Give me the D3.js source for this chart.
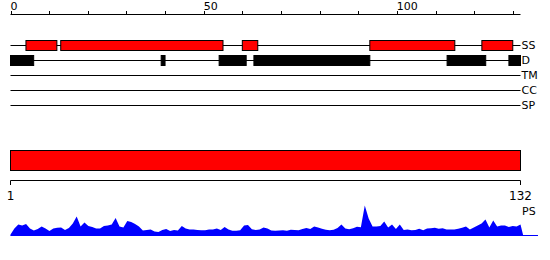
<!DOCTYPE html>
<html>
<head>
<meta charset="utf-8">
<script src="https://cdn.jsdelivr.net/npm/d3@7"></script>
<style>
  body { margin: 0; background: #fff; }
  text { font-family: "DejaVu Sans", sans-serif; fill: #000; }
</style>
</head>
<body>
<svg id="chart" width="550" height="260"></svg>
<script>
// sequence features, 1-based residue ranges
const seqLength = 132;
const ssRanges = [[5,12],[14,55],[61,64],[94,115],[123,130]];
const disorderRanges = [[1,6],[40,40],[55,61],[64,93],[114,123],[130,132]];
const tmRanges = [];
const ccRanges = [];
const spRanges = [];
const trackNames = ["SS","D","TM","CC","SP"];
const topTicks = d3.range(0, 131, 10);
const topLabels = [0, 50, 100];
// per-residue profile (PS)
const psValues = [1,7,11,10,11.5,7,5,6.5,9,7,4.5,7,7.7,8,5.5,7.5,12,19,9,13,
  9.5,8.5,7,7,9.5,10,11,17.5,9,8,14.5,13.5,11.5,9,5,5.5,6,4,3.5,5.5,
  6.5,4.5,5.5,5,9.5,7,6,6,5.5,5.3,5.3,6,6,7,5.5,8.5,6,4.7,4.7,5.3,
  10,10.5,6.3,5.5,6,8,7,5,4.7,5,5.3,4.7,5.7,5.5,5.3,6.5,7.5,6.5,9,8,
  6.7,5.7,5.3,5.7,7.5,11,7,6.3,7.3,8.7,8.3,30,17,9,9,9.5,14,8,11,6.5,
  11,5.5,6,5.3,5.5,6.7,5.3,7,7.3,7.7,6.7,7.3,6,6,6,6.7,7.7,9,6,8,
  10,12,16,8,15,9,10,10,8.5,9.5,9,11];

const svg = d3.select("#chart");
const x0 = 10.5, x1 = 520.5;

// top ruler
const xTop = d3.scaleLinear().domain([0, seqLength]).range([x0, x1]);
const ruler = svg.append("g");
ruler.append("line")
    .attr("x1", xTop(0)).attr("x2", xTop(seqLength))
    .attr("y1", 14.5).attr("y2", 14.5)
    .attr("stroke", "#000");
ruler.selectAll(".tick").data(topTicks).join("line")
    .attr("x1", d => Math.round(xTop(d)) + 0.5).attr("x2", d => Math.round(xTop(d)) + 0.5)
    .attr("y1", 11).attr("y2", 14.5)
    .attr("stroke", "#000");
ruler.selectAll("text").data(topLabels).join("text")
    .attr("x", d => xTop(d)).attr("y", 10)
    .attr("font-size", 11)
    .text(d => d);

// feature tracks
const tracks = [ssRanges, disorderRanges, tmRanges, ccRanges, spRanges];
const trackFill = ["#ff0000", "#000", "#000", "#000", "#000"];
const rowY = i => 45.5 + i * 15;
tracks.forEach((ranges, i) => {
    let g = svg.append("g");
    g.append("line")
        .attr("x1", x0).attr("x2", x1)
        .attr("y1", rowY(i)).attr("y2", rowY(i))
        .attr("stroke", "#000");
    g.selectAll("rect").data(ranges).join("rect")
        .attr("x", r => xTop(r[0] - 1))
        .attr("width", r => xTop(r[1]) - xTop(r[0] - 1))
        .attr("y", rowY(i) - 5).attr("height", 10)
        .attr("fill", trackFill[i])
        .attr("stroke", "#000");
    g.append("text")
        .attr("x", x1 + 1).attr("y", rowY(i)).attr("dy", "0.36em")
        .attr("font-size", 11)
        .text(trackNames[i]);
});

// domain bar + residue axis
const xRes = d3.scaleLinear().domain([1, seqLength]).range([x0, x1]);
svg.append("rect")
    .attr("x", xRes(1)).attr("width", xRes(seqLength) - xRes(1))
    .attr("y", 150.5).attr("height", 20)
    .attr("fill", "#ff0000").attr("stroke", "#000");
svg.append("path")
    .attr("d", `M${xRes(1)},185V180.5H${xRes(seqLength)}V185`)
    .attr("fill", "none").attr("stroke", "#000");
svg.selectAll(".resLabel").data([1, seqLength]).join("text")
    .attr("class", "resLabel")
    .attr("x", d => xRes(d)).attr("y", 200)
    .attr("text-anchor", "middle")
    .attr("font-size", 12)
    .text(d => d);
svg.append("text")
    .attr("x", x1 + 1.5).attr("y", 215)
    .attr("font-size", 11)
    .text("PS");

// PS profile
const yPs = d3.scaleLinear().domain([0, 30]).range([235.5, 205.5]);
const pts = psValues.map((v, i) => [i + 1, v]);
pts.push([seqLength + 0.7, 0]);
const area = d3.area()
    .x(d => xRes(d[0]))
    .y0(yPs(0)).y1(d => yPs(d[1]));
svg.append("line")
    .attr("x1", x0).attr("x2", 538)
    .attr("y1", yPs(0)).attr("y2", yPs(0))
    .attr("stroke", "#0000ff");
svg.append("path").datum(pts)
    .attr("d", area)
    .attr("fill", "#0000ff");
</script>
</body>
</html>
